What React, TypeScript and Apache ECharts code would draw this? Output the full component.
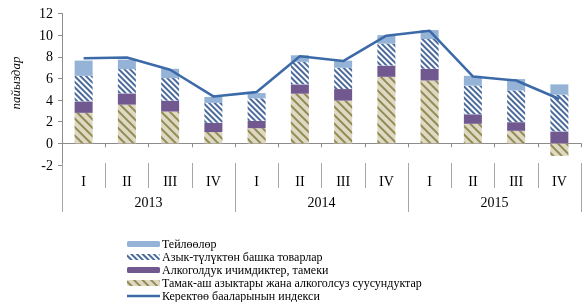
import React, { useEffect, useRef } from "react";
import * as echarts from "echarts";

const quarters = ["I", "II", "III", "IV", "I", "II", "III", "IV", "I", "II", "III", "IV"];
const years = ["2013", "2014", "2015"];
const yTicks = { min: -2, max: 12, interval: 2 };

const nameServices = "Тейлөөлөр";
const nameOther = "Азык-түлүктөн башка товарлар";
const nameAlcohol = "Алкоголдук ичимдиктер, тамеки";
const nameFood = "Тамак-аш азыктары жана алкоголсуз суусундуктар";
const nameCPI = "Керектөө бааларынын индекси";

const food = [2.82, 3.58, 2.94, 1.04, 1.4, 4.59, 3.95, 6.15, 5.81, 1.81, 1.16, -1.16];
const alcohol = [1.06, 1.04, 1.01, 0.86, 0.68, 0.86, 1.07, 1.04, 1.08, 0.88, 0.8, 1.1];
const other = [2.36, 2.24, 2.08, 1.84, 2.08, 2.08, 1.96, 2.02, 2.75, 2.64, 2.93, 3.4];
const services = [1.41, 0.88, 0.86, 0.55, 0.49, 0.61, 0.67, 0.79, 0.83, 0.91, 1.05, 0.95];
const cpi = [7.87, 7.93, 6.8, 4.34, 4.74, 8.05, 7.6, 9.95, 10.4, 6.18, 5.81, 4.1];

const serif = "'Liberation Serif', 'Times New Roman', serif";

export default function App() {
  const ref = useRef<HTMLDivElement>(null);
  useEffect(() => {
    if (!ref.current) return;
    const chart = echarts.init(ref.current, null, { renderer: "svg" });
    const axisGray = "#8c8c8c";
    chart.setOption({
      animation: false,
      textStyle: { fontFamily: serif },
      grid: { left: 62, right: 1, top: 13.5, bottom: 137 },
      xAxis: [
        {
          type: "category",
          data: quarters,
          axisLine: { show: true, onZero: true, lineStyle: { color: axisGray, width: 1 } },
          axisTick: { show: true, length: 4, interval: 0, lineStyle: { color: axisGray } },
          axisLabel: { show: false },
        },
        {
          type: "category",
          data: quarters,
          position: "bottom",
          offset: -2,
          axisLine: { show: false, onZero: false },
          axisTick: { show: true, length: 25, interval: 0, lineStyle: { color: "#a6a6a6" } },
          axisLabel: { show: true, interval: 0, margin: 11, fontSize: 14, color: "#000", fontFamily: serif },
        },
        {
          type: "category",
          data: years,
          position: "bottom",
          offset: -2,
          axisLine: { show: false, onZero: false },
          axisTick: { show: true, length: 49, interval: 0, lineStyle: { color: "#a6a6a6" } },
          axisLabel: { show: true, interval: 0, margin: 32, fontSize: 14, color: "#000", fontFamily: serif },
        },
      ],
      yAxis: {
        type: "value",
        min: yTicks.min,
        max: yTicks.max,
        interval: yTicks.interval,
        axisLine: { show: true, lineStyle: { color: axisGray } },
        axisTick: { show: true, length: 4, lineStyle: { color: axisGray } },
        splitLine: { show: false },
        axisLabel: { fontSize: 14, color: "#000", margin: 9, fontFamily: serif },
      },
      legend: {
        orient: "vertical",
        left: 127,
        top: 238,
        height: 120,
        padding: 0,
        itemWidth: 33,
        itemHeight: 6,
        itemGap: 1,
        textStyle: { fontSize: 12, color: "#000", fontFamily: serif, padding: [0, 0, 0, -3] },
        data: [
          nameServices,
          nameOther,
          nameAlcohol,
          nameFood,
          { name: nameCPI, icon: "path://M0,0H33V2.5H0Z" },
        ],
      },
      graphic: [
        {
          type: "text",
          x: 15,
          y: 83,
          rotation: Math.PI / 2,
          style: {
            text: "пайыздар",
            fontSize: 13,
            fontStyle: "italic",
            fontFamily: serif,
            fill: "#000",
            textAlign: "center",
            textVerticalAlign: "middle",
          },
        },
      ],
      series: [
        {
          name: nameFood,
          type: "bar",
          stack: "a",
          barWidth: 18,
          data: food,
          itemStyle: {
            color: "#ddd9c3",
            decal: {
              symbol: "rect",
              symbolSize: 1,
              color: "#948a54",
              dashArrayX: [1, 0],
              dashArrayY: [2, 3.5],
              rotation: Math.PI / 4,
            },
          },
        },
        {
          name: nameAlcohol,
          type: "bar",
          stack: "a",
          barWidth: 18,
          data: alcohol,
          itemStyle: { color: "#71588f" },
        },
        {
          name: nameOther,
          type: "bar",
          stack: "a",
          barWidth: 18,
          data: other,
          itemStyle: {
            color: "#ffffff",
            decal: {
              symbol: "rect",
              symbolSize: 1,
              color: "#4a6a9c",
              dashArrayX: [1, 0],
              dashArrayY: [1.2, 1.8],
              rotation: Math.PI / 4,
            },
          },
        },
        {
          name: nameServices,
          type: "bar",
          stack: "a",
          barWidth: 18,
          data: services,
          itemStyle: { color: "#95b3d7" },
        },
        {
          name: nameCPI,
          type: "line",
          data: cpi,
          symbol: "none",
          showSymbol: false,
          lineStyle: { color: "#3c6aa8", width: 2.5 },
          itemStyle: { color: "#3c6aa8" },
        },
      ],
    });
    return () => chart.dispose();
  }, []);
  return <div ref={ref} style={{ position: "fixed", left: 0, top: 0, width: 582, height: 302 }} />;
}
